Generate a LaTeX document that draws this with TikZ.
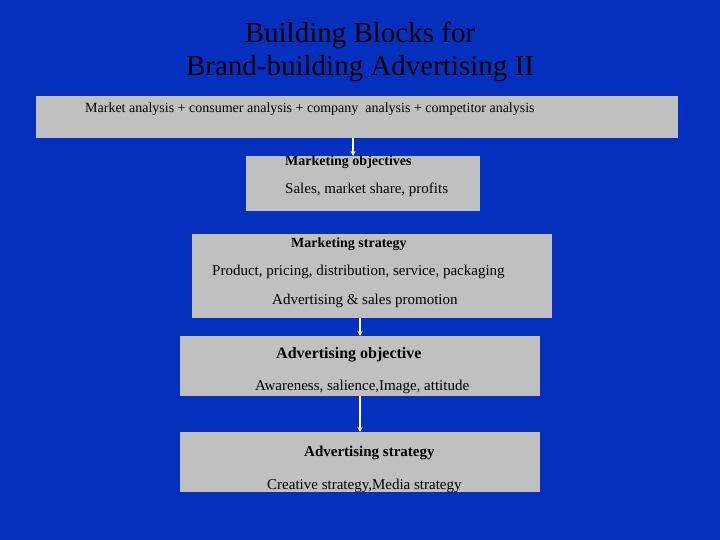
\documentclass[tikz,border=0pt]{standalone}
\usepackage{fontspec}
\setmainfont{Liberation Serif}
\usetikzlibrary{arrows.meta}
\definecolor{bg}{RGB}{5,48,189}
\definecolor{bx}{RGB}{192,192,192}
\begin{document}
\begin{tikzpicture}[x=1pt,y=-1pt,
  box/.style={fill=bx,draw=none},
  txt/.style={anchor=west,inner sep=0pt,font=\fontsize{14}{16}\selectfont},
  arr/.style={white,line width=1.2pt,-{Stealth[length=5pt,width=5pt]}}]
\fill[bg] (0,0) rectangle (720,540);
\useasboundingbox (0,0) rectangle (720,540);
\node[font=\fontsize{29}{33}\selectfont,align=center,black] (title) at (360,52) {Building Blocks for\\Brand-building Advertising II};
\path[box] (36,96) rectangle (678,138);
\node[box,minimum width=642,minimum height=42,anchor=north west,inner sep=0] (b1) at (36,96) {};
\node[box,minimum width=234,minimum height=55,anchor=north west,inner sep=0] (b2) at (246,156) {};
\node[box,minimum width=360,minimum height=84,anchor=north west,inner sep=0] (b3) at (192,234) {};
\node[box,minimum width=360,minimum height=60,anchor=north west,inner sep=0] (b4) at (180,336) {};
\node[box,minimum width=360,minimum height=60,anchor=north west,inner sep=0] (b5) at (180,432) {};
\node[txt,font=\fontsize{14}{16}\selectfont] (t1) at (85,109) {Market analysis + consumer analysis + company \ analysis + competitor analysis};
\node[txt,font=\fontsize{14}{16}\selectfont\bfseries] (t2a) at (285,162) {Marketing objectives};
\node[txt,font=\fontsize{15}{17}\selectfont] (t2b) at (285,190) {Sales, market share, profits};
\node[txt,font=\fontsize{14}{16}\selectfont\bfseries] (t3a) at (291,244) {Marketing strategy};
\node[txt,font=\fontsize{15}{17}\selectfont] (t3b) at (212,272) {Product, pricing, distribution, service, packaging};
\node[txt,font=\fontsize{15}{17}\selectfont] (t3c) at (272,301) {Advertising \& sales promotion};
\node[txt,font=\fontsize{16}{18}\selectfont\bfseries] (t4a) at (276,355) {Advertising objective};
\node[txt,font=\fontsize{15}{17}\selectfont] (t4b) at (255,387) {Awareness, salience,Image, attitude};
\node[txt,font=\fontsize{15}{17}\selectfont\bfseries] (t5a) at (304,453) {Advertising strategy};
\node[txt,font=\fontsize{15}{17}\selectfont] (t5b) at (267,486) {Creative strategy,Media strategy};
\draw[arr] (b1.south -| 353,0) -- (b2.north -| 353,0);
\draw[arr] (b3.south -| 360,0) -- (b4.north -| 360,0);
\draw[arr] (b4.south -| 360,0) -- (b5.north -| 360,0);
\end{tikzpicture}
\end{document}
